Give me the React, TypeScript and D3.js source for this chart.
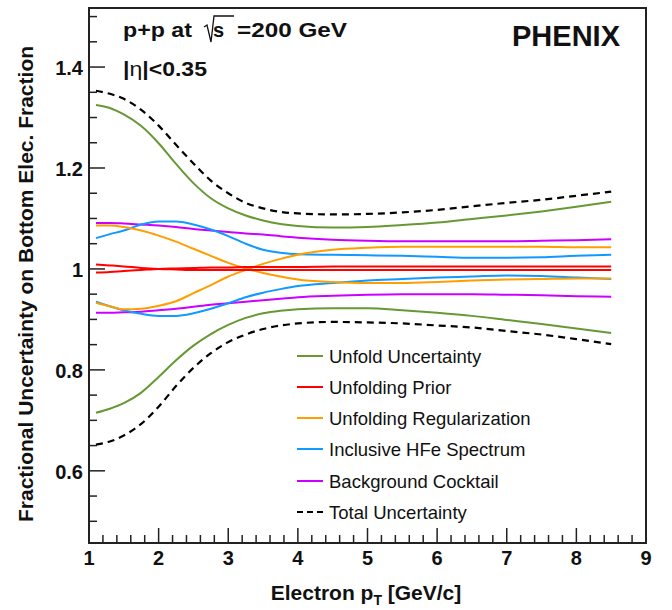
import React from 'react';
import * as d3 from 'd3';

const W = 672;
const H = 610;

const ptBins = [1.1, 1.3, 1.5, 1.75, 2.0, 2.25, 2.5, 2.75, 3.0, 3.25, 3.5, 3.75, 4.0, 4.5, 5.0, 5.5, 6.0, 6.5, 7.0, 7.5, 8.0, 8.5];

const unfoldHi = [1.325, 1.319, 1.306, 1.283, 1.249, 1.208, 1.170, 1.140, 1.120, 1.106, 1.096, 1.089, 1.085, 1.082, 1.083, 1.087, 1.092, 1.099, 1.106, 1.114, 1.123, 1.133];
const unfoldLo = [0.715, 0.723, 0.734, 0.755, 0.786, 0.819, 0.848, 0.871, 0.889, 0.903, 0.912, 0.917, 0.920, 0.922, 0.922, 0.918, 0.913, 0.907, 0.899, 0.891, 0.882, 0.873];
const priorA = [1.009, 1.007, 1.005, 1.002, 1.000, 0.999, 0.998, 0.998, 0.998, 0.998, 0.998, 0.998, 0.998, 0.998, 0.998, 0.998, 0.998, 0.998, 0.998, 0.998, 0.998, 0.998];
const priorB = [0.993, 0.994, 0.996, 0.998, 1.000, 1.001, 1.002, 1.003, 1.003, 1.004, 1.004, 1.004, 1.004, 1.005, 1.005, 1.005, 1.005, 1.005, 1.005, 1.005, 1.005, 1.005];
const regA = [1.086, 1.086, 1.083, 1.076, 1.066, 1.054, 1.040, 1.026, 1.012, 1.001, 0.992, 0.985, 0.979, 0.974, 0.972, 0.972, 0.974, 0.977, 0.979, 0.980, 0.981, 0.981];
const regB = [0.933, 0.926, 0.920, 0.921, 0.927, 0.936, 0.952, 0.968, 0.985, 0.998, 1.010, 1.020, 1.028, 1.038, 1.042, 1.044, 1.044, 1.044, 1.044, 1.044, 1.043, 1.043];
const hfeHi = [1.061, 1.069, 1.076, 1.088, 1.094, 1.094, 1.088, 1.078, 1.065, 1.050, 1.038, 1.032, 1.029, 1.028, 1.027, 1.026, 1.024, 1.022, 1.022, 1.023, 1.026, 1.028];
const hfeLo = [0.935, 0.926, 0.918, 0.911, 0.907, 0.907, 0.912, 0.921, 0.932, 0.944, 0.953, 0.960, 0.966, 0.972, 0.977, 0.980, 0.983, 0.985, 0.987, 0.986, 0.983, 0.980];
const cocktailHi = [1.091, 1.091, 1.090, 1.088, 1.086, 1.083, 1.079, 1.076, 1.073, 1.070, 1.068, 1.065, 1.062, 1.058, 1.056, 1.055, 1.055, 1.055, 1.055, 1.056, 1.057, 1.059];
const cocktailLo = [0.913, 0.913, 0.914, 0.915, 0.918, 0.921, 0.925, 0.929, 0.932, 0.935, 0.938, 0.941, 0.944, 0.947, 0.949, 0.950, 0.950, 0.950, 0.949, 0.948, 0.946, 0.945];
const totalHi = [1.353, 1.347, 1.337, 1.315, 1.284, 1.246, 1.209, 1.175, 1.150, 1.131, 1.120, 1.113, 1.110, 1.108, 1.109, 1.112, 1.117, 1.124, 1.131, 1.137, 1.145, 1.153];
const totalLo = [0.652, 0.658, 0.670, 0.693, 0.727, 0.768, 0.804, 0.833, 0.855, 0.870, 0.881, 0.888, 0.892, 0.895, 0.894, 0.892, 0.888, 0.884, 0.877, 0.870, 0.861, 0.851];

const xMajorTicks = [1, 2, 3, 4, 5, 6, 7, 8, 9];
const yMajorTicks = [0.6, 0.8, 1.0, 1.2, 1.4];
const yTickLabels = ['0.6', '0.8', '1', '1.2', '1.4'];

const legendLabels = ['Unfold Uncertainty', 'Unfolding Prior', 'Unfolding Regularization', 'Inclusive HFe Spectrum', 'Background Cocktail', 'Total Uncertainty'];

const GREEN = '#669933';
const RED = '#ff0000';
const ORANGE = '#ff9e00';
const BLUE = '#1199ff';
const PURPLE = '#cc00ff';
const BLACK = '#000000';
const legendColors = [GREEN, RED, ORANGE, BLUE, PURPLE, BLACK];

const L = 89, R = 646, T = 8, B = 543;
const x = d3.scaleLinear().domain([1, 9]).range([L, R]);
const y = d3.scaleLinear().domain([0.457, 1.517]).range([B, T]);

const line = d3
  .line<number>()
  .x((_, i) => x(ptBins[i]))
  .y((d) => y(d))
  .curve(d3.curveMonotoneX);

const series = [
  { v: cocktailHi, c: PURPLE },
  { v: cocktailLo, c: PURPLE },
  { v: hfeHi, c: BLUE },
  { v: hfeLo, c: BLUE },
  { v: regA, c: ORANGE },
  { v: regB, c: ORANGE },
  { v: priorA, c: RED },
  { v: priorB, c: RED },
  { v: unfoldHi, c: GREEN },
  { v: unfoldLo, c: GREEN },
];

const FONT = '"Liberation Sans", Arial, Helvetica, sans-serif';

export default function App() {
  const xMinor = d3.range(10, 91, 2).map((d) => d / 10).filter((d) => Math.abs(d - Math.round(d)) > 1e-6);
  const yMinor = d3.range(10, 31, 1).map((d) => d / 20).filter((d) => !yMajorTicks.some((m) => Math.abs(m - d) < 1e-6));
  const legendRowY = [356, 387, 418, 449, 481, 512];
  return (
    <svg width={W} height={H} style={{ position: 'absolute', left: 0, top: 0, background: '#fff' }} fontFamily={FONT}>
      <rect x={0} y={0} width={W} height={H} fill="#fff" />
      <defs>
        <clipPath id="plotclip">
          <rect x={L} y={T} width={R - L} height={B - T} />
        </clipPath>
      </defs>
      <g clipPath="url(#plotclip)" fill="none">
        {series.map((s, i) => (
          <path key={i} d={line(s.v) || ''} stroke={s.c} strokeWidth={2} />
        ))}
        <path d={line(totalHi) || ''} stroke={BLACK} strokeWidth={2.2} strokeDasharray="7,5" />
        <path d={line(totalLo) || ''} stroke={BLACK} strokeWidth={2.2} strokeDasharray="7,5" />
      </g>
      <g stroke="#222" strokeWidth={1.5}>
        {xMajorTicks.map((t) => (
          <line key={'xm' + t} x1={x(t)} x2={x(t)} y1={B} y2={B - 15} />
        ))}
        {xMinor.map((t) => (
          <line key={'xn' + t} x1={x(t)} x2={x(t)} y1={B} y2={B - 8} />
        ))}
        {yMajorTicks.map((t) => (
          <line key={'ym' + t} x1={L} x2={L + 16} y1={y(t)} y2={y(t)} />
        ))}
        {yMinor.map((t) => (
          <line key={'yn' + t} x1={L} x2={L + 8} y1={y(t)} y2={y(t)} />
        ))}
      </g>
      <rect x={L} y={T} width={R - L} height={B - T} fill="none" stroke="#222" strokeWidth={2} />
      <g fontWeight="bold" fontSize={20} fill="#111">
        {xMajorTicks.map((t) => (
          <text key={'xl' + t} x={x(t)} y={565} textAnchor="middle">
            {String(t)}
          </text>
        ))}
        {yMajorTicks.map((t, i) => (
          <text key={'yl' + t} x={83} y={y(t) + 8} textAnchor="end">
            {yTickLabels[i]}
          </text>
        ))}
      </g>
      <text x={366} y={600} textAnchor="middle" fontWeight="bold" fontSize={21} fill="#111">
        Electron p<tspan fontSize={14} dy={5}>T</tspan>
        <tspan dy={-5}> [GeV/c]</tspan>
      </text>
      <text transform={`translate(33,${284}) rotate(-90)`} textAnchor="middle" fontWeight="bold" fontSize={21} fill="#111">
        Fractional Uncertainty on Bottom Elec. Fraction
      </text>
      <g fontWeight="bold" fontSize={20} fill="#111">
        <text x={123} y={37} textLength={69} lengthAdjust="spacingAndGlyphs">p+p at</text>
        <path d="M204,27 L207,25 L211,42 L214,16 L234,16" fill="none" stroke="#111" strokeWidth={1.3} />
        <text x={213} y={37}>s</text>
        <text x={237} y={37} textLength={110} lengthAdjust="spacingAndGlyphs">=200 GeV</text>
        <text x={123} y={76} textLength={84} lengthAdjust="spacingAndGlyphs">
          |<tspan fontWeight="normal">η</tspan>|&lt;0.35
        </text>
        <text x={620} y={46} textAnchor="end" fontSize={29}>PHENIX</text>
      </g>
      <g>
        {legendLabels.map((lab, i) => (
          <g key={lab}>
            <line
              x1={297}
              x2={323}
              y1={legendRowY[i]}
              y2={legendRowY[i]}
              stroke={legendColors[i]}
              strokeWidth={i === 5 ? 2.2 : 2}
              strokeDasharray={i === 5 ? '6,4' : undefined}
            />
            <text x={329} y={legendRowY[i] + 7} fontSize={18.5} fill="#111">
              {lab}
            </text>
          </g>
        ))}
      </g>
    </svg>
  );
}
